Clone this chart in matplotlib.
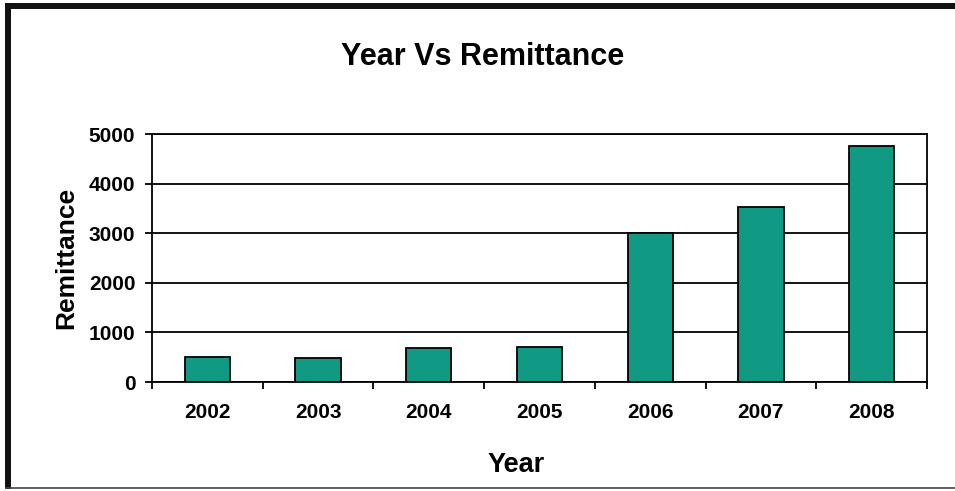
import matplotlib
matplotlib.use("Agg")
import matplotlib.pyplot as plt
from matplotlib.lines import Line2D

years = ["2002", "2003", "2004", "2005", "2006", "2007", "2008"]
remittance = [510, 490, 680, 700, 3000, 3530, 4750]
y_ticks = [0, 1000, 2000, 3000, 4000, 5000]

plt.rcParams["font.family"] = ["Liberation Sans", "DejaVu Sans"]
plt.rcParams["font.weight"] = "bold"

W, H = 955, 491
fig = plt.figure(figsize=(W / 100, H / 100), dpi=100)
ax = fig.add_axes([152 / W, 1 - 382 / H, (927 - 152) / W, (382 - 134) / H])

x = list(range(len(years)))
ax.bar(x, remittance, width=0.41, color="#109a83", edgecolor="black", linewidth=1.3, zorder=3)

ax.set_xlim(-0.5, len(years) - 0.5)
ax.set_ylim(0, 5000)
ax.set_yticks(y_ticks)
ax.set_yticklabels([str(v) for v in y_ticks], fontsize=15, fontweight="bold")
ax.set_xticks(x)
ax.set_xticklabels(years, fontsize=15, fontweight="bold")
ax.tick_params(axis="x", length=0, pad=15)
ax.set_xticks([i - 0.5 for i in range(len(years) + 1)], minor=True)
ax.tick_params(axis="x", which="minor", length=5, width=1.3, direction="out", color="black")
ax.tick_params(axis="y", length=5, width=1.3, direction="out", pad=7)

ax.yaxis.grid(True, color="black", linewidth=1.3, zorder=0)
ax.set_axisbelow(True)
for s in ax.spines.values():
    s.set_linewidth(1.3)
    s.set_color("black")

fig.text(483 / W, 1 - 65 / H, "Year Vs Remittance", ha="center", va="baseline",
         fontsize=22, fontweight="bold")
fig.text(516 / W, 1 - 472 / H, "Year", ha="center", va="baseline",
         fontsize=19.5, fontweight="bold")
fig.text(73 / W, 1 - 258 / H, "Remittance", ha="center", va="baseline", rotation=90,
         rotation_mode="anchor", fontsize=19, fontweight="bold")

# outer frame: heavy top and left edges, thin bottom edge
def px(xp, yp):
    return xp / W, 1 - yp / H

fig.lines.append(Line2D(*zip(px(5, 6), px(W, 6)), transform=fig.transFigure,
                        color="#111111", linewidth=4.3, solid_capstyle="butt"))
fig.lines.append(Line2D(*zip(px(8, 3), px(8, 489)), transform=fig.transFigure,
                        color="#111111", linewidth=4.3, solid_capstyle="butt"))
fig.lines.append(Line2D(*zip(px(5, 488), px(W, 488)), transform=fig.transFigure,
                        color="#444444", linewidth=1.2, solid_capstyle="butt"))

fig.savefig("out.png", dpi=100, facecolor="white")
